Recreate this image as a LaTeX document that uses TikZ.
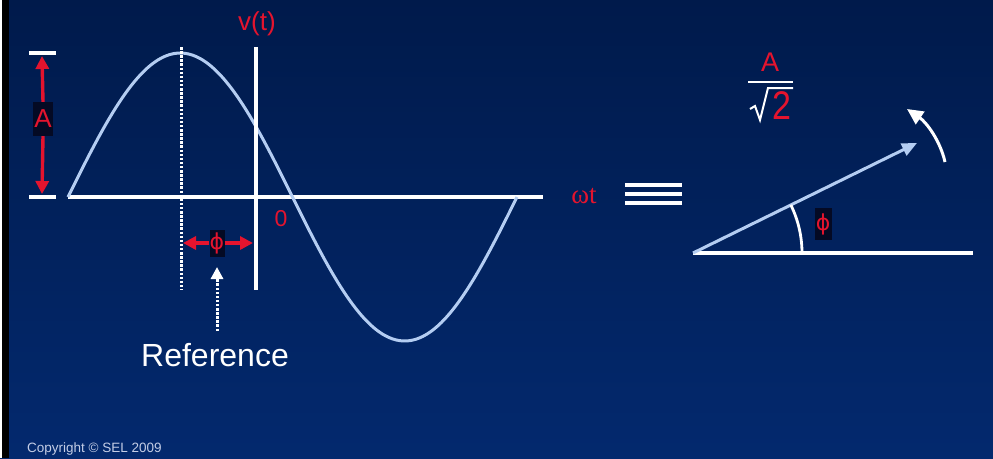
\documentclass[tikz,border=0pt]{standalone}
\usepackage{fontspec}
\setmainfont{Liberation Sans}
\newfontfamily\timesfont{Liberation Serif}
\newfontfamily\dvfont{DejaVu Sans}
\usetikzlibrary{arrows.meta}
\definecolor{bgtop}{HTML}{001A4B}
\definecolor{bgbot}{HTML}{03296E}
\definecolor{wave}{HTML}{B4CDF2}
\definecolor{lblred}{HTML}{E4142E}
\definecolor{copytext}{HTML}{C4CDE6}
\definecolor{lblbox}{HTML}{040A24}
\tikzset{
  fs/.style={font=\fontsize{#1}{#1}\selectfont},
  redlbl/.style={text=lblred, inner sep=1pt},
  boxlbl/.style={redlbl, fill=lblbox, inner sep=2pt},
  whiteline/.style={draw=white, line width=3.2pt},
  dotline/.style={draw=white, line width=3pt, dash pattern=on 2.5pt off 1.6pt},
  redarrow/.style={draw=lblred, line width=3.4pt, -{Triangle[length=13pt,width=13pt]}},
  wavepen/.style={draw=wave, line width=3pt},
}
\begin{document}
\begin{tikzpicture}[x=1pt,y=-1pt]
\useasboundingbox (0,0) rectangle (993,458);
\shade[top color=bgtop, bottom color=bgbot] (0,0) rectangle (993,458);
\fill[white] (0,0) rectangle (2,458);
\fill[black] (2,0) rectangle (9,458);

% ---- sine wave and axes ----
\coordinate (ax0) at (68,197);
\coordinate (ax1) at (543,197);
\draw[whiteline] (ax0) -- (ax1);
\draw[wavepen] plot[domain=68:517, samples=120, smooth] (\x, {197-144*sin((\x-68)/449*360)});

\coordinate (dt) at (181,47);
\coordinate (db) at (181,290);
\draw[dotline] (dt) -- (db);
\coordinate (st) at (256,47);
\coordinate (sb) at (256,290);
\draw[whiteline] (st) -- (sb);

\node[redlbl, fs=26] (vt) at (257,24) {v(t)};
\node[redlbl, fs=23] (zero) at (281,219) {0};

% ---- amplitude ----
\coordinate (tkt1) at (29,53); \coordinate (tkt2) at (56,53);
\coordinate (tkb1) at (29,197); \coordinate (tkb2) at (56,197);
\draw[whiteline] (tkt1) -- (tkt2);
\draw[whiteline] (tkb1) -- (tkb2);
\node[boxlbl, fs=26, minimum width=20pt, minimum height=34pt, inner sep=0pt] (amp) at (43,119) {A};
\coordinate (ampt) at (42,56);
\coordinate (ampb) at (42,194);
\draw[redarrow] (amp.north) -- (ampt);
\draw[redarrow] (amp.south) -- (ampb);

% ---- phase shift ----
\node[boxlbl, fs=22, minimum width=15pt, minimum height=27pt, inner sep=0pt] (phi1) at (217,243) {\dvfont ϕ};
\coordinate (phl) at (183,243);
\coordinate (phr) at (253,243);
\draw[redarrow] (phi1.west) -- (phl);
\draw[redarrow] (phi1.east) -- (phr);

\node[text=white, fs=32, inner sep=1pt] (ref) at (215,355) {Reference};
\coordinate (refa) at (217,331);
\coordinate (refb) at (217,267);
\draw[dotline, -{Triangle[length=12pt,width=12pt]}] (refa) -- (refb);

\node[redlbl, fs=27] (wt) at (584,196) {\timesfont ωt};

% ---- equivalence sign ----
\foreach \yy/\nm in {185/e1, 194/e2, 203/e3} {
  \coordinate (\nm a) at (625,\yy);
  \coordinate (\nm b) at (682,\yy);
  \draw[draw=white, line width=3.8pt] (\nm a) -- (\nm b);
}

% ---- phasor ----
\coordinate (O) at (693,253);
\coordinate (hx) at (973,253);
\coordinate (tip) at (917,143);
\draw[whiteline] (O) -- (hx);
\draw[wavepen, -{Triangle[length=15pt,width=13pt]}] (O) -- (tip);
\draw[draw=white, line width=2.8pt] (802,253) arc[start angle=0, end angle=-26.2, radius=109];
\node[boxlbl, fs=22, minimum width=17pt, minimum height=32pt, inner sep=0pt] (phi2) at (823,224) {\dvfont ϕ};

\coordinate (rota) at (945,162);
\coordinate (rotb) at (907,109);
\draw[draw=white, line width=3pt, -{Triangle[length=16pt,width=15pt]}]
  (rota) .. controls (940,140) and (926,122) .. (rotb);

% ---- A / sqrt 2 ----
\node[redlbl, fs=27] (fa) at (770,62) {A};
\coordinate (fb1) at (748,82); \coordinate (fb2) at (793,82);
\draw[draw=white, line width=2.4pt] (fb1) -- (fb2);
\draw[draw=white, line width=2pt, line join=miter] (750,109) -- (755,106) -- (760,120) -- (768,88) -- (793,88);
\node[redlbl, fs=40, xscale=0.85] (f2) at (782,106) {2};

% ---- copyright ----
\node[text=copytext, fs=13.5, anchor=west, inner sep=0pt] (copy) at (27,449) {Copyright © SEL 2009};
\end{tikzpicture}
\end{document}
